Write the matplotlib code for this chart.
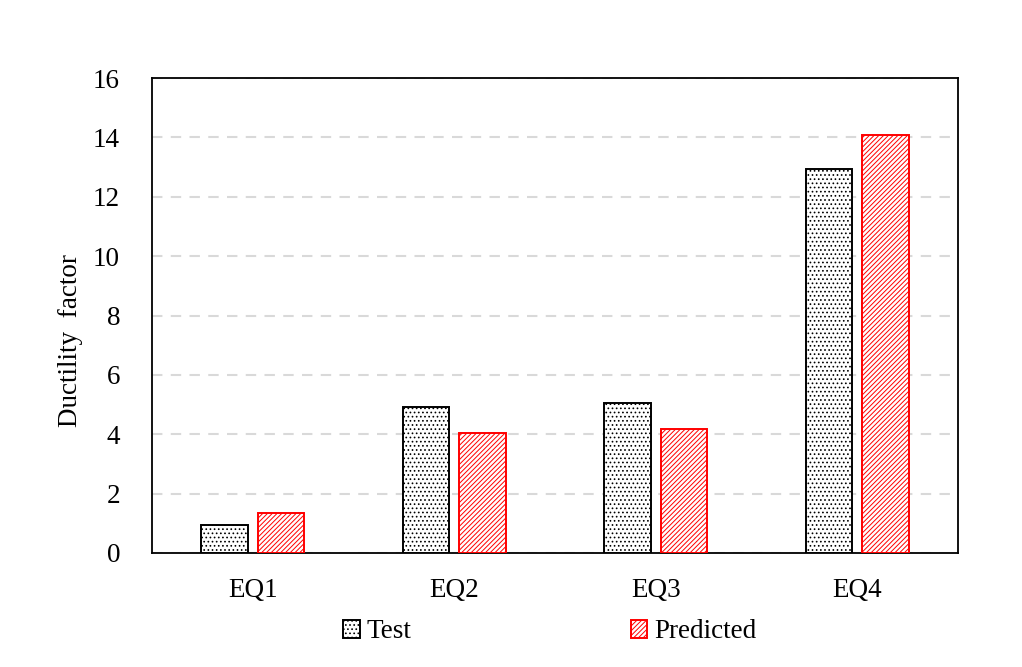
import numpy as np
import matplotlib
matplotlib.use("Agg")
import matplotlib.pyplot as plt

categories = ["EQ1", "EQ2", "EQ3", "EQ4"]
test_vals = [0.95, 4.92, 5.05, 12.93]
pred_vals = [1.35, 4.04, 4.18, 14.07]
y_ticks = [0, 2, 4, 6, 8, 10, 12, 14, 16]

plt.rcParams['font.family'] = ['Liberation Serif', 'DejaVu Serif']
plt.rcParams['hatch.linewidth'] = 0.7

fs = 19.5

fig = plt.figure(figsize=(10.22, 6.67), dpi=100)
ax = fig.add_axes([152 / 1022, 1 - 553 / 667, 806 / 1022, 475 / 667])

x = np.arange(len(categories))
w = 0.23
off = 0.14
ax.bar(x - off, test_vals, w, facecolor='white', edgecolor='black',
       hatch='....', linewidth=1.4, label='Test', zorder=3)
ax.bar(x + off, pred_vals, w, facecolor='white', edgecolor='red',
       hatch='///////', linewidth=1.4, label='Predicted', zorder=3)

ax.set_xlim(-0.5, 3.5)
ax.set_ylim(0, 16)
ax.set_yticks(y_ticks)
ax.set_xticks(x)
ax.set_xticklabels(categories)
ax.tick_params(axis='both', length=0, labelsize=fs)
ax.tick_params(axis='y', pad=23)
ax.tick_params(axis='x', pad=18)
ax.yaxis.grid(True, linestyle=(0, (5, 4)), color='#d9d9d9', linewidth=1.5, zorder=0)
for s in ax.spines.values():
    s.set_linewidth(1.3)
ax.set_ylabel("Ductility  factor", fontsize=fs)
ax.yaxis.set_label_coords(-0.0856, 0.448)

fig.legend(loc='center', bbox_to_anchor=(0.538, 1 - 632 / 667), ncol=2,
           frameon=False, fontsize=fs, handlelength=0.6, handleheight=0.6,
           handletextpad=0.26, columnspacing=8.1)

fig.savefig("out.png", dpi=100)
